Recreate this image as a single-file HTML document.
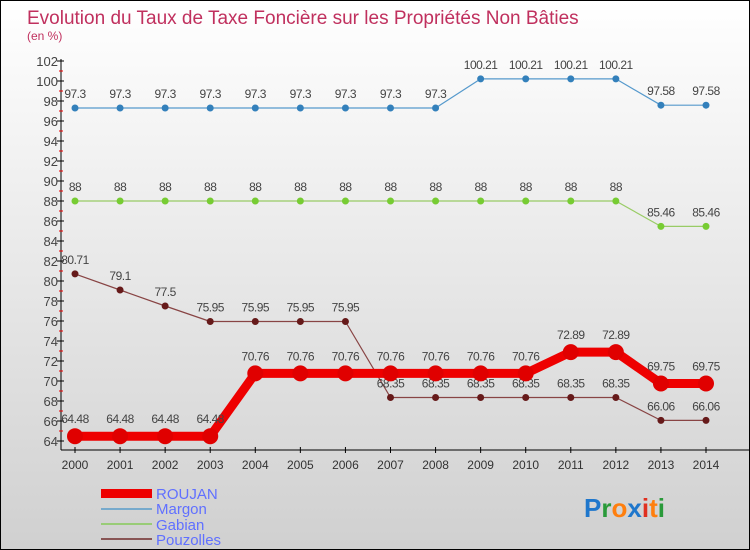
<!DOCTYPE html>
<html><head><meta charset="utf-8"><style>
body{margin:0}
#wrap{width:748px;height:548px;border:1px solid #000;background:linear-gradient(#ffffff,#d0d0d0);position:relative;overflow:hidden;font-family:"Liberation Sans",sans-serif}
</style></head><body>
<div id="wrap">
<svg id="svg" width="748" height="548" xmlns="http://www.w3.org/2000/svg">
<text x="26" y="23" font-size="19" fill="#c0305e">Evolution du Taux de Taxe Foncière sur les Propriétés Non Bâties</text>
<text x="26" y="39" font-size="12" fill="#c0305e">(en %)</text>
<g id="axes"></g><g id="series"></g>
<g>
<rect x="100" y="488" width="51" height="9" fill="#ee0000"/>
<text x="155" y="498" font-size="15" fill="#6070ff">ROUJAN</text>
<rect x="100" y="507" width="51" height="2" fill="#77aacc"/>
<text x="155" y="513" font-size="15" fill="#6070ff">Margon</text>
<rect x="100" y="522" width="51" height="2" fill="#99cc77"/>
<text x="155" y="529" font-size="15" fill="#6070ff">Gabian</text>
<rect x="100" y="537" width="51" height="2" fill="#885555"/>
<text x="155" y="544" font-size="15" fill="#6070ff">Pouzolles</text>
</g>
<text x="583" y="516" font-size="26" font-weight="bold"><tspan fill="#1f77cc">P</tspan><tspan fill="#2a9a3a">r</tspan><tspan fill="#ff7f0e">o</tspan><tspan fill="#1f77cc">x</tspan><tspan fill="#e03020">i</tspan><tspan fill="#ff7f0e">t</tspan><tspan fill="#2a9a3a">i</tspan></text>
</svg></div>
<script>
const years=[2000,2001,2002,2003,2004,2005,2006,2007,2008,2009,2010,2011,2012,2013,2014];
const roujan=[64.48,64.48,64.48,64.48,70.76,70.76,70.76,70.76,70.76,70.76,70.76,72.89,72.89,69.75,69.75];
const margon=[97.3,97.3,97.3,97.3,97.3,97.3,97.3,97.3,97.3,100.21,100.21,100.21,100.21,97.58,97.58];
const gabian=[88,88,88,88,88,88,88,88,88,88,88,88,88,85.46,85.46];
const pouzolles=[80.71,79.1,77.5,75.95,75.95,75.95,75.95,68.35,68.35,68.35,68.35,68.35,68.35,66.06,66.06];
const yTicks=[64,66,68,70,72,74,76,78,80,82,84,86,88,90,92,94,96,98,100,102];
const NS="http://www.w3.org/2000/svg";
const x=i=>74+i*(631/14);
const y=v=>440-(v-64)*10;
function mk(t,a,p){const e=document.createElementNS(NS,t);for(const k in a)e.setAttribute(k,a[k]);p.appendChild(e);return e;}
const ax=document.getElementById('axes'),se=document.getElementById('series');
let l=mk('line',{x1:60,y1:58,x2:60,y2:449,stroke:'#000'},ax);


l=mk('line',{x1:60,y1:449,x2:748,y2:449,stroke:'#000'},ax);


const yMax=yTicks[yTicks.length-1];
yTicks.forEach(v=>{
 mk('line',{x1:56,y1:y(v),x2:63,y2:y(v),stroke:'#000'},ax);
 if(v<yMax) mk('line',{x1:58,y1:y(v+1),x2:62,y2:y(v+1),stroke:'#e00'},ax);
 const t=mk('text',{x:57,y:y(v)+5,'font-size':13,'text-anchor':'end',fill:'#444'},ax);t.textContent=v;
 
 
});
years.forEach((yr,i)=>{
 mk('line',{x1:x(i),y1:446,x2:x(i),y2:452,stroke:'#000'},ax);
 const t=mk('text',{x:x(i),y:468,'font-size':12,'text-anchor':'middle',fill:'#333'},ax);t.textContent=yr;
 
 
});
function series(d,col,w,r,name,lab){
 const g=mk('g',{},se);
 
 
 const p=mk('polyline',{points:d.map((v,i)=>x(i)+','+y(v)).join(' '),fill:'none',stroke:col,'stroke-width':w,'stroke-linejoin':'round'},g);
 
 
 d.forEach((v,i)=>{
  const c=mk('circle',{cx:x(i),cy:y(v),r:r,fill:lab},g);
  
  
  const t=mk('text',{x:x(i),y:y(v)-10-(r>5?3:0),'font-size':12,'text-anchor':'middle',fill:'#444','letter-spacing':'-0.5'},g);t.textContent=v;
  
  
 });
}
series(pouzolles,'#884444',1.2,3.5,'pouzolles','#661a1a');
series(gabian,'#99cc66',1.2,3.5,'gabian','#77cc33');
series(margon,'#5599cc',1.2,3.5,'margon','#3380bb');
series(roujan,'#ee0000',9,8,'roujan','#e00000');
</script>
</body></html>
